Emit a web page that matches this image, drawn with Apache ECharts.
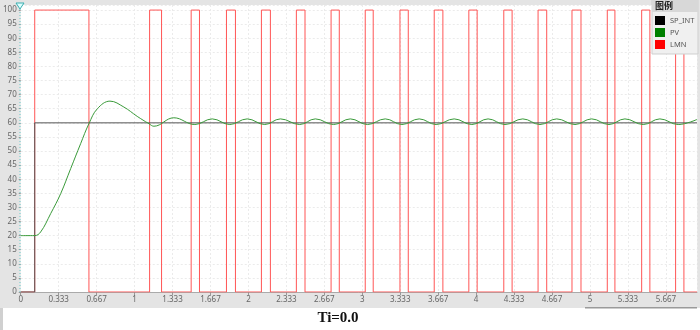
<!DOCTYPE html>
<html>
<head>
<meta charset="utf-8">
<script src="https://cdn.jsdelivr.net/npm/echarts@6/dist/echarts.min.js"></script>
<style>
html,body{margin:0;padding:0;background:#fff;}
#c{width:700px;height:330px;}
</style>
</head>
<body>
<div id="c"></div>
<script>
// ---- data ----
var seriesNames = ['SP_INT', 'PV', 'LMN'];
// SP_INT: step times / values
var spT = [0, 0.123, 0.123, 5.94];
var spV = [0, 0, 60, 60];
// PV: times / values
var pvT = [0, 0.123, 0.175, 0.263, 0.351, 0.439, 0.526, 0.599, 0.673, 0.784, 0.906, 1.023, 1.126, 1.17, 1.345,
  1.529, 1.682, 1.836, 1.989, 2.143, 2.281, 2.45, 2.588, 2.748, 2.895, 3.046, 3.202, 3.348, 3.5, 3.649, 3.807,
  3.962, 4.105, 4.254, 4.41, 4.561, 4.708, 4.868, 5.015, 5.167, 5.307, 5.468, 5.614, 5.775, 5.94];
var pvV = [20, 20, 21.3, 27.8, 34.9, 43.8, 52.6, 59.7, 65.0, 67.7, 65.6, 62.3, 59.7, 58.8, 61.8,
  59.4, 61.4, 59.4, 61.4, 59.4, 61.4, 59.4, 61.4, 59.4, 61.4, 59.4, 61.4, 59.4, 61.4, 59.4, 61.4,
  59.4, 61.4, 59.4, 61.4, 59.4, 61.4, 59.4, 61.4, 59.4, 61.4, 59.4, 61.4, 59.4, 61.2];
// LMN: pulse on / off times (value 100 while on, 0 otherwise)
var lmnOn  = [0.123, 1.132, 1.497, 1.807, 2.114, 2.421, 2.726, 3.026, 3.331, 3.632, 3.936, 4.243, 4.544, 4.842, 5.152, 5.454, 5.752];
var lmnOff = [0.599, 1.237, 1.570, 1.886, 2.193, 2.497, 2.798, 3.096, 3.404, 3.708, 4.009, 4.316, 4.620, 4.921, 5.219, 5.526, 5.825];
var lmnHigh = 100, lmnLow = 0;
var xMin = 0, xMax = 5.94;
var titleText = 'Ti=0.0';
var legendTitle = '图例';

// ---- build series data ----
function zip(a, b) { return a.map(function (v, i) { return [v, b[i]]; }); }
var spData = zip(spT, spV);
var pvData = zip(pvT, pvV);
var lmnData = [[xMin, lmnLow]];
for (var i = 0; i < lmnOn.length; i++) {
  lmnData.push([lmnOn[i], lmnLow], [lmnOn[i], lmnHigh], [lmnOff[i], lmnHigh], [lmnOff[i], lmnLow]);
}
lmnData.push([xMax, lmnLow]);

var chart = echarts.init(document.getElementById('c'), null, {renderer: 'canvas'});
var labelColor = '#666';
chart.setOption({
  animation: false,
  backgroundColor: '#e4e4e4',
  grid: {left: 20, right: 3, top: 5, bottom: 38, show: true, backgroundColor: '#ffffff', borderWidth: 0},
  xAxis: {
    type: 'value', min: xMin, max: xMax, interval: 1 / 3,
    axisLine: {show: true, lineStyle: {color: '#aaa'}},
    axisTick: {show: true, length: 3, lineStyle: {color: '#999'}},
    axisLabel: {color: labelColor, fontSize: 8, fontFamily: 'Noto Sans', margin: 4, showMaxLabel: false,
      formatter: function (v) { return String(Math.round(v * 1000) / 1000); }},
    splitLine: {show: true, lineStyle: {color: '#ebebeb', type: [2, 2]}}
  },
  yAxis: {
    type: 'value', min: 0, max: 101.8, interval: 5,
    axisLine: {show: false},
    axisTick: {show: true, length: 2, lineStyle: {color: '#999'}},
    axisLabel: {color: labelColor, fontSize: 8, fontFamily: 'Noto Sans', margin: 4, showMaxLabel: false},
    splitLine: {show: true, lineStyle: {color: '#ebebeb', type: [2, 2]}}
  },
  legend: {
    orient: 'vertical', left: 655, top: 16, padding: 0, itemWidth: 10, itemHeight: 9, itemGap: 3, z: 30,
    textStyle: {color: '#555', fontSize: 7.5, fontFamily: 'Noto Sans'},
    data: [
      {name: 'SP_INT', icon: 'rect', itemStyle: {color: '#000'}},
      {name: 'PV', icon: 'rect', itemStyle: {color: '#008000'}},
      {name: 'LMN', icon: 'rect', itemStyle: {color: '#ff0000'}}
    ]
  },
  graphic: [
    {type: 'rect', shape: {x: 0, y: 308, width: 700, height: 22}, style: {fill: '#fff'}, z: 0},
    {type: 'rect', shape: {x: 0, y: 308, width: 3, height: 22}, style: {fill: '#d0d0d0'}, z: 0},
    {type: 'rect', shape: {x: 585, y: 307, width: 112, height: 1.5}, style: {fill: '#9a9a9a'}, z: 1},
    {type: 'rect', shape: {x: 652, y: 0, width: 46, height: 54}, style: {fill: '#f0f0f0', stroke: '#cfcfcf', lineWidth: 1}, z: 10},
    {type: 'rect', shape: {x: 652, y: 0, width: 46, height: 12}, style: {fill: '#d8d8d8'}, z: 11},
    {type: 'text', x: 655, y: 1, style: {text: legendTitle, fontSize: 9, fontWeight: 'bold', fill: '#222', fontFamily: 'Noto Sans CJK SC'}, z: 12},
    {type: 'line', shape: {x1: 20, y1: 6, x2: 20, y2: 292}, style: {stroke: '#66cccc', lineWidth: 1, lineDash: [1, 2]}, z: 5},
    {type: 'polygon', shape: {points: [[16, 3], [24, 3], [20, 9]]}, style: {fill: '#dff', stroke: '#3aaeb0', lineWidth: 1}, z: 6},
    {type: 'text', x: 338, y: 318, style: {text: titleText, fontSize: 15, fontWeight: 'bold', fill: '#111', fontFamily: 'Liberation Serif', align: 'center', verticalAlign: 'middle'}, z: 5}
  ],
  series: [
    {name: 'LMN', type: 'line', data: lmnData, symbol: 'none', color: '#ff0000',
      lineStyle: {color: '#ff5555', width: 1}, z: 2},
    {name: 'SP_INT', type: 'line', data: spData, symbol: 'none', color: '#000',
      lineStyle: {color: '#555', width: 1}, z: 3},
    {name: 'PV', type: 'line', data: pvData, symbol: 'none', smooth: 0.4, color: '#008000',
      lineStyle: {color: '#3a9a3a', width: 1}, z: 4}
  ]
});
</script>
</body>
</html>
